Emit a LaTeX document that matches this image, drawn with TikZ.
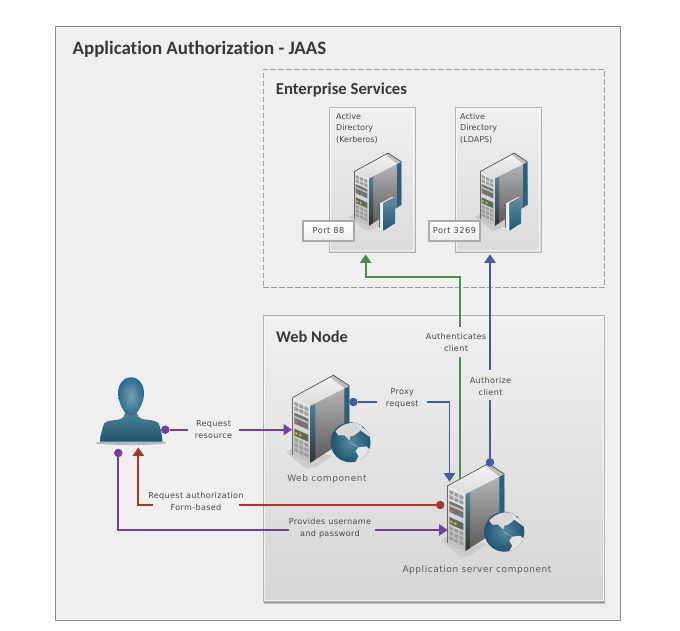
\documentclass[tikz,border=0pt]{standalone}
\usepackage{fontspec}
\setmainfont{DejaVu Sans}
\newfontfamily\titlefont[Ligatures=NoCommon]{Carlito}
\newfontfamily\labfont[LetterSpace=4]{DejaVu Sans}
\newfontfamily\capfont[LetterSpace=6]{DejaVu Sans}
\usetikzlibrary{arrows.meta,shadings}
\definecolor{pur}{HTML}{70409B}
\definecolor{blu}{HTML}{3F5CA3}
\definecolor{grn}{HTML}{4A8F47}
\definecolor{rd}{HTML}{A5372F}
\definecolor{teal1}{HTML}{2B6C88}
\definecolor{teal2}{HTML}{1F5570}
\definecolor{txt}{HTML}{454545}
\definecolor{bgpanel}{HTML}{F0F0F1}
\tikzset{
  box/.style={draw,inner sep=0pt,outer sep=0pt},
  outerbox/.style={box,draw=black!45,line width=1pt,fill=bgpanel},
  dashbox/.style={box,draw=black!38,line width=.9pt,dash pattern=on 5.5pt off 2.5pt},
  panelbox/.style={box,draw=black!30,line width=1pt,top color=bgpanel,bottom color=#1},
  glowline/.style={draw=white,draw opacity=.65,line width=.9pt},
  shadowbox/.style={inner sep=0pt,outer sep=0pt,fill=black!42},
  softshadow/.style={inner sep=0pt,outer sep=0pt,fill=black!25},
  portbox/.style={box,draw=black!33,line width=1.1pt,top color=white,bottom color=black!8,font=\capfont\fontsize{8.2}{10}\selectfont,text=txt},
  big/.style={inner sep=0pt,anchor=base west,text=black!78,font=\titlefont\bfseries},
  lab/.style={inner sep=0pt,align=center,text=txt,font=\labfont\fontsize{8.1}{12}\selectfont},
  captext/.style={inner sep=0pt,align=center,text=black!65,font=\capfont\fontsize{9}{12}\selectfont},
  cardtext/.style={inner sep=0pt,align=left,anchor=north west,text=txt,font=\fontsize{8}{11.5}\selectfont},
  conn/.style={line width=1.9pt,draw=#1},
  tipped/.style={conn=#1,-{Triangle[length=8.5pt,width=11pt,fill=#1]}},
  dot/.style={circle,fill=#1,minimum size=8.5pt,inner sep=0pt,outer sep=0pt},
}
% server drawing: #1,#2 = top-left front corner, #3 = scale
\newcommand{\srv}[3]{%
\begin{scope}[shift={(#1,#2)},scale=#3]
  \fill[black!20] (-6,55) -- (0,50) -- (40,58) -- (24,69) -- (14,71) -- cycle;
  % side
  \shade[top color=black!28,middle color=black!48,bottom color=black!66] (18,8) -- (57,-12) -- (57,40) -- (18,65) -- cycle;
  \shade[top color=teal1!85!white,bottom color=black!80] (18,8) -- (23,6) -- (23,62) -- (18,65) -- cycle;
  \fill[teal1!90!black] (52,-9.5) -- (57,-12) -- (57,40) -- (52,43) -- cycle;
  % top
  \shade[top color=black!4,bottom color=black!14] (0,0) -- (41,-22.5) -- (57,-12) -- (18,8) -- cycle;
  \fill[black!26] (41,-22.5) -- (57,-12) -- (52,-9.5) -- (38,-20.5) -- cycle;
  \draw[black!68,line width=.7pt] (0,0) -- (41,-22.5) -- (57,-12);
  % front
  \begin{scope}[yslant=-0.444]
    \shade[top color=black!8,bottom color=black!25] (0,0) rectangle (18,57);
    \draw[black!60,line width=.5pt] (0,0) -- (0,57);
    \foreach \r in {3,8,39,44,49} \foreach \c in {2,7,12} \fill[black!38] (\c,\r) rectangle ++(4,3.6);
    \fill[black!55] (2,14) rectangle (16,25);
    \fill[black!25] (2,17) rectangle (16,19);
    \fill[orange!85!black] (3,22) rectangle (5,24);
    \fill[black!60] (2,30) rectangle (16,37);
    \fill[yellow!80!black] (3,33) rectangle (5,35);
    \fill[yellow!80!black] (7,33) rectangle (9,35);
    \fill[green!60!black] (11,33) rectangle (13,35);
  \end{scope}
\end{scope}}
\newcommand{\globepic}[3]{%
\begin{scope}[shift={(#1,#2)}]
  \shade[inner color=teal1!80!white,outer color=teal2,shading=radial] (0,0) circle (#3);
  \begin{scope}
    \clip (0,0) circle (#3);
    \fill[black!15] (-15,-11) .. controls (-8,-20) and (6,-22) .. (12,-16) -- (9,-11) -- (4,-7) -- (0,-6) -- (-1,-2) -- (-6,-7) -- (-12,-7) -- cycle;
    \fill[black!12] (6,-18) -- (17,-12) -- (21,-4) -- (10,-12) -- cycle;
    \fill[black!10] (8,5) -- (16,4) -- (20,8) -- (16,14) -- (13,16) -- (9,22) -- (4,21) -- (8,14) -- (5,9) -- cycle;
    \fill[black!25] (-3,-1) -- (5,3) -- (8,5) -- (2,2) -- cycle;
  \end{scope}
\end{scope}}
\newcommand{\bookpic}[2]{%
\begin{scope}[shift={(#1,#2)}]
  \fill[black!5] (0,0) -- (12,-6.5) -- (16,-7.3) -- (4.3,-1) -- (4.3,26.7) -- (0,23.3) -- cycle;
  \fill[black!60] (0,0) -- (0,23.3) -- (1,24) -- (1,.2) -- cycle;
  \shade[top color=teal1!75!white,bottom color=teal2] (4.3,-1) -- (16,-7.3) -- (16,19.3) -- (4.3,26.7) -- cycle;
\end{scope}}
\begin{document}
\begin{tikzpicture}[x=1pt,y=-1pt]
\useasboundingbox (0,0) rectangle (680,630);
\fill[white] (0,0) rectangle (680,630);
\node[outerbox,minimum width=565.5pt,minimum height=594pt] (outer) at (337.75,323.5) {};
\node[big,font=\titlefont\bfseries\fontsize{18.9}{22}\selectfont] (t1) at (72.5,54) {Application Authorization - JAAS};
% enterprise
\node[dashbox,minimum width=341pt,minimum height=218.4pt] (ent) at (433.8,178.5) {};
\node[big,font=\titlefont\bfseries\fontsize{16.7}{20}\selectfont] (t2) at (275.7,94.5) {Enterprise Services};
% cards
\node[softshadow,minimum width=86pt,minimum height=144.5pt] (ad1s) at (372.6,180.6) {};
\node[softshadow,minimum width=86pt,minimum height=144.5pt] (ad2s) at (498.6,180.6) {};
\node[panelbox=black!14,minimum width=86pt,minimum height=144.5pt] (ad1) at (372,179.75) {};
\node[panelbox=black!14,minimum width=86pt,minimum height=144.5pt] (ad2) at (498,179.75) {};
\draw[glowline] ([shift={(1.2,1.2)}]ad1.north west) rectangle ([shift={(-1.2,-1.2)}]ad1.south east);
\draw[glowline] ([shift={(1.2,1.2)}]ad2.north west) rectangle ([shift={(-1.2,-1.2)}]ad2.south east);
\node[cardtext] (ad1t) at (336,113.2) {Active\\Directory\\(Kerberos)};
\node[cardtext] (ad2t) at (460,113.2) {Active\\Directory\\(LDAPS)};
\srv{354}{171.7}{0.83}
\srv{480}{171.7}{0.83}
\bookpic{379}{204}
\bookpic{505}{204}
\node[softshadow,minimum width=51pt,minimum height=20pt] (p1s) at (329,232) {};
\node[softshadow,minimum width=51pt,minimum height=20pt] (p2s) at (455,232) {};
\node[portbox,minimum width=51pt,minimum height=20pt] (p1) at (328.5,231) {Port 88};
\node[portbox,minimum width=51pt,minimum height=20pt] (p2) at (454.5,231) {Port 3269};
% web node
\node[softshadow,minimum width=341pt,minimum height=286pt] (webs2) at (434.8,461.4) {};
\node[shadowbox,minimum width=341pt,minimum height=286pt] (webs) at (434.2,460.2) {};
\node[panelbox=black!16,minimum width=341pt,minimum height=286pt] (web) at (433.7,458.9) {};
\draw[glowline] ([shift={(1.2,1.2)}]web.north west) rectangle ([shift={(-1.2,-1.2)}]web.south east);
\node[big,font=\titlefont\bfseries\fontsize{16.4}{20}\selectfont] (t3) at (276,342.5) {Web Node};
% person
\fill[black!28] (131,442.8) ellipse (35.5 and 2.2);
\shade[top color=teal1!85!white,middle color=teal1!90!white,bottom color=teal2] (125,412) .. controls (125,416) and (123,418.5) .. (119,419.5) .. controls (113,420.5) and (107,420.5) .. (104.5,423) .. controls (102,428) and (100.5,436) .. (100,441.7) -- (162.5,441.7) .. controls (162,436) and (161,428) .. (158.5,423) .. controls (155,420) and (148,420) .. (142,419) .. controls (139,418) and (137,416) .. (137,412) -- cycle;
\shade[inner color=teal1!65!white,outer color=teal1] (131,377.3) .. controls (139,377.3) and (144,385) .. (144,393) .. controls (144,402) and (138,415.5) .. (131,415.5) .. controls (124,415.5) and (118,402) .. (118,393) .. controls (118,385) and (123,377.3) .. (131,377.3) -- cycle;
% servers
\srv{292.3}{397.7}{1}
\globepic{350.5}{442.3}{20}
\srv{447.3}{486}{1}
\globepic{504.3}{531.7}{20}
% labels
\node[lab] (lreq) at (213.5,429.3) {Request\\resource};
\node[lab] (lauth) at (196,501.3) {Request authorization\\Form-based};
\node[lab] (lprov) at (330,528.3) {Provides username\\and password};
\node[lab] (lprox) at (402.3,398.3) {Proxy\\request};
\node[lab] (lacl) at (456,342.3) {Authenticates\\client};
\node[lab] (lazc) at (490.5,386.3) {Authorize\\client};
\node[captext] (cweb) at (327,479.3) {Web component};
\node[captext] (capp) at (477,570) {Application server component};
% connector ends
\node[dot=pur] (d1) at (165.3,429.7) {};
\node[dot=pur] (d2) at (118.3,453) {};
\node[dot=blu] (d3) at (353.4,402) {};
\node[dot=blu] (d4) at (490,462.3) {};
\node[dot=rd] (d5) at (440.2,505) {};
\coordinate (g1a) at (188.3,429.7); \coordinate (g1b) at (239,429.7); \coordinate (tipweb) at (292,429.7);
\coordinate (g2a) at (289,530); \coordinate (g2b) at (375,530); \coordinate (tipapp) at (447.7,530); \coordinate (c2) at (118.3,530);
\coordinate (g3a) at (376.7,402); \coordinate (g3b) at (427.3,402); \coordinate (c3) at (449.5,402); \coordinate (tipapp2) at (449.5,481.7);
\coordinate (g4a) at (490,400); \coordinate (g4b) at (490,370); \coordinate (tipad2) at (490,254.3);
\coordinate (g5a) at (239,505); \coordinate (g5b) at (152.7,505); \coordinate (c5) at (138.3,505); \coordinate (tipper) at (138.3,447.3);
\coordinate (s6) at (460,479); \coordinate (g6a) at (460,357.3); \coordinate (g6b) at (460,327.3); \coordinate (c6) at (460,276.7); \coordinate (c6b) at (365.7,276.7); \coordinate (tipad1) at (365.7,254.3);
% connectors
\draw[conn=pur] (d1) -- (g1a);
\draw[tipped=pur] (g1b) -- (tipweb);
\draw[conn=pur] (d2) -- (c2) -- (g2a);
\draw[tipped=pur] (g2b) -- (tipapp);
\draw[conn=blu] (d3) -- (g3a);
\draw[tipped=blu] (g3b) -- (c3) -- (tipapp2);
\draw[conn=blu] (d4) -- (g4a);
\draw[tipped=blu] (g4b) -- (tipad2);
\draw[conn=rd] (d5) -- (g5a);
\draw[tipped=rd] (g5b) -- (c5) -- (tipper);
\draw[conn=grn] (s6) -- (g6a);
\draw[tipped=grn] (g6b) -- (c6) -- (c6b) -- (tipad1);
\end{tikzpicture}
\end{document}
